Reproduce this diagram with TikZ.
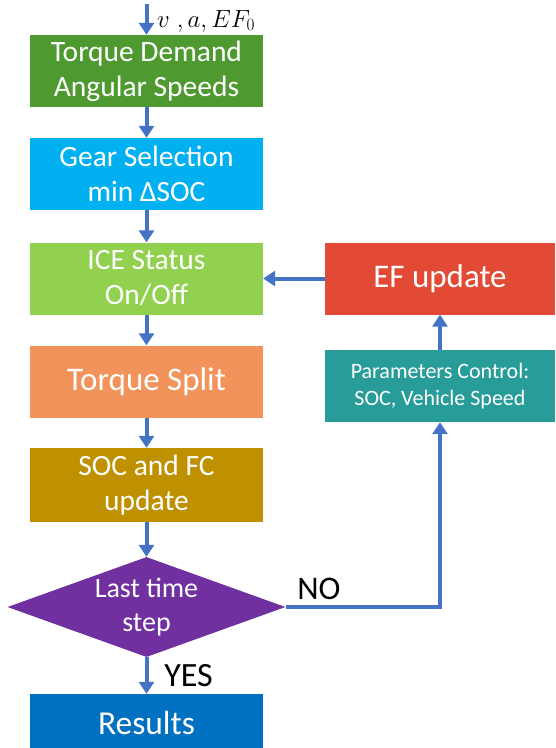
\documentclass[tikz,border=0pt]{standalone}
\usepackage{fontspec}
\setmainfont{Carlito}
\usetikzlibrary{arrows.meta,shapes.geometric}
\definecolor{cA}{HTML}{4E9A30}
\definecolor{cB}{HTML}{00B0F0}
\definecolor{cC}{HTML}{92D050}
\definecolor{cD}{HTML}{F2935B}
\definecolor{cE}{HTML}{BF9000}
\definecolor{cF}{HTML}{7030A0}
\definecolor{cG}{HTML}{0070C0}
\definecolor{cH}{HTML}{E24A35}
\definecolor{cI}{HTML}{289C98}
\definecolor{cArr}{HTML}{4472C4}
\tikzset{
  box/.style={rectangle, inner sep=0pt, text=white, align=center, minimum width=233pt, minimum height=72pt, font=\fontsize{29.5}{35}\selectfont},
  rbox/.style={rectangle, inner sep=0pt, text=white, align=center, minimum width=230pt, minimum height=72pt},
  arr/.style={draw=cArr, line width=4pt, -{Triangle[width=15pt,length=12pt]}},
  lbl/.style={text=black, font=\fontsize{34}{40}\selectfont, inner sep=0pt}
}
\begin{document}
\begin{tikzpicture}[x=1pt,y=-1pt]
\useasboundingbox (0,0) rectangle (555,748);
\coordinate (start) at (146.5,4);
\node[box, fill=cA] (b1) at (146.5,71) {Torque Demand\\Angular Speeds};
\node[box, fill=cB] (b2) at (146.5,174) {Gear Selection\\min ΔSOC};
\node[box, fill=cC] (b3) at (146.5,278.5) {ICE Status\\On/Off};
\node[box, fill=cD, font=\fontsize{33}{40}\selectfont] (b4) at (146.5,381.5) {Torque Split};
\node[box, fill=cE, minimum height=74pt] (b5) at (146.5,485) {SOC and FC\\update};
\node[diamond, fill=cF, inner sep=0pt, minimum width=278pt, minimum height=100pt] (dm) at (146.5,607) {};
\node[text=white, align=center, inner sep=0pt, font=\fontsize{28}{34}\selectfont] (dmt) at (dm.center) {Last time\\step};
\node[box, fill=cG, minimum height=58pt, font=\fontsize{33.5}{40}\selectfont] (res) at (146.5,723) {Results};
\node[rbox, fill=cH, font=\fontsize{33}{40}\selectfont] (ef) at (440,278.5) {EF update};
\node[rbox, fill=cI, font=\fontsize{22}{27}\selectfont] (pc) at (440,386) {Parameters Control:\\SOC, Vehicle Speed};
\node[anchor=base west, inner sep=0pt, font=\fontsize{23}{27}\selectfont] (inp) at (157,27) {$v\;,a,EF_0$};
\node[lbl, font=\fontsize{33}{40}\selectfont] (no) at (319,589) {NO};
\node[lbl] (yes) at (188.5,676) {YES};
\draw[arr] (start) -- (b1.north);
\draw[arr] (b1) -- (b2);
\draw[arr] (b2) -- (b3);
\draw[arr] (b3) -- (b4);
\draw[arr] (b4) -- (b5);
\draw[arr] (b5) -- (dm);
\draw[arr] (dm) -- (res);
\draw[arr] (ef) -- (b3);
\draw[arr] (pc) -- (ef);
\draw[arr] (dm.east) -| (pc.south);
\end{tikzpicture}
\end{document}
